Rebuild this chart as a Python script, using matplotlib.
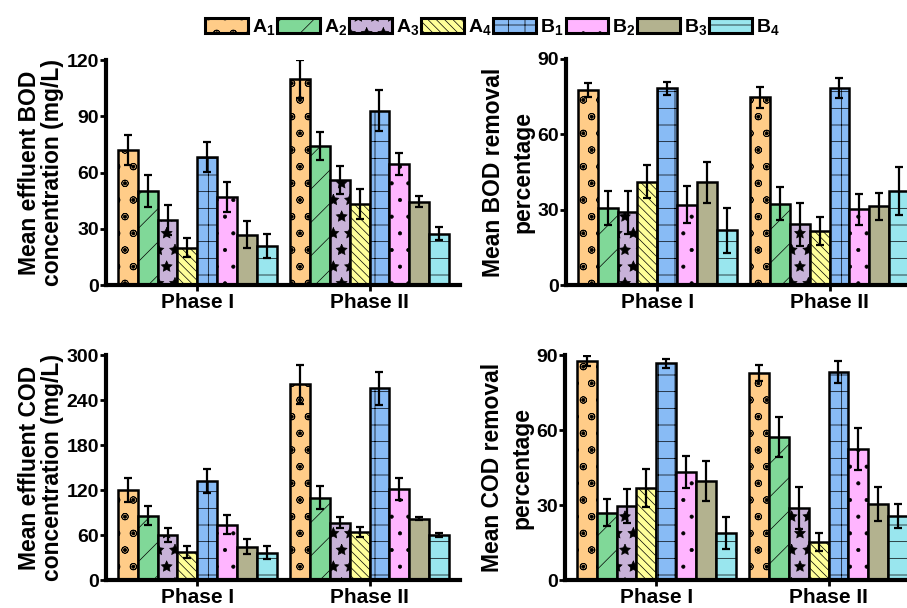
import matplotlib
matplotlib.use("Agg")
import matplotlib.pyplot as plt
import numpy as np

plt.rcParams['font.family'] = ['Liberation Sans', 'DejaVu Sans']
plt.rcParams['font.weight'] = 'bold'
plt.rcParams['mathtext.fontset'] = 'custom'
plt.rcParams['mathtext.rm'] = 'Liberation Sans:bold'
plt.rcParams['mathtext.it'] = 'Liberation Sans:bold'
plt.rcParams['mathtext.bf'] = 'Liberation Sans:bold'
plt.rcParams['hatch.linewidth'] = 0.5

phases = ['Phase I', 'Phase II']
series = ['A$_1$', 'A$_2$', 'A$_3$', 'A$_4$', 'B$_1$', 'B$_2$', 'B$_3$', 'B$_4$']
colors = ['#FFCC88', '#80D898', '#C8B2D8', '#FFFF99', '#88BBF5', '#FFB5FF', '#B3B28F', '#99E6EE']
hatches = ['o.', '/', '*', '\\\\\\\\', '+', '.', '', '-']

# values per series: [Phase I, Phase II]
bod_eff = [[72, 110], [50, 74], [35, 56], [20, 43.5], [68.5, 93], [47, 64.5], [27, 44.5], [21, 27.5]]
bod_eff_err = [[8, 10], [8.5, 7.5], [8, 7.5], [5, 8], [8, 11], [8, 6], [7, 3], [6.5, 3.5]]

bod_rem = [[77.5, 74.7], [30.6, 32.4], [29, 24.2], [41.2, 21.5], [78.3, 78.5], [32, 30.2], [41, 31.4], [21.8, 37.4]]
bod_rem_err = [[2.8, 4.1], [6.8, 6.6], [8.5, 8.6], [6.5, 5.5], [2.7, 3.9], [7.3, 6.1], [8.2, 5.3], [9, 9.6]]

cod_eff = [[120, 261], [86, 110], [60, 76.5], [37.5, 64], [132.5, 255.5], [74, 121], [44.5, 82], [36.5, 60]]
cod_eff_err = [[16, 26], [12.5, 15.6], [9.3, 7], [8.4, 6.7], [16, 22], [12.4, 14.7], [10.2, 1.5], [8.4, 2.2]]

cod_rem = [[87.7, 82.7], [27, 57.2], [29.7, 28.8], [36.8, 15.2], [86.7, 83.2], [43.2, 52.4], [39.6, 30.5], [18.8, 25.7]]
cod_rem_err = [[1.9, 3.2], [5.3, 7.9], [6.7, 8.4], [7.7, 3.5], [1.7, 4.4], [6.4, 8.4], [8, 6.9], [6.3, 4.7]]

panels = [
    (bod_eff, bod_eff_err, 'Mean effluent BOD\nconcentration (mg/L)', [0, 30, 60, 90, 120], 120, 1.0),
    (bod_rem, bod_rem_err, 'Mean BOD removal\npercentage', [0, 30, 60, 90], 90, 1.35),
    (cod_eff, cod_eff_err, 'Mean effluent COD\nconcentration (mg/L)', [0, 60, 120, 180, 240, 300], 300, 1.0),
    (cod_rem, cod_rem_err, 'Mean COD removal\npercentage', [0, 30, 60, 90], 90, 1.35),
]

fig = plt.figure(figsize=(9.07, 6.08), dpi=100)
W = 354 / 907
rects = [
    [106 / 907, 0.531, W, 0.370],
    [566 / 907, 0.531, W, 0.372],
    [106 / 907, 0.046, W, 0.370],
    [565 / 907, 0.046, W, 0.370],
]

bw = 0.115
x = np.arange(len(phases))
handles = None
for (vals, errs, ylabel, yticks, ymax, ls), rect in zip(panels, rects):
    ax = fig.add_axes(rect)
    hs = []
    for i in range(len(series)):
        offs = (i - 3.5) * bw
        b = ax.bar(x + offs, vals[i], bw, yerr=errs[i], color=colors[i], edgecolor='black',
                   linewidth=1.8, hatch=hatches[i], label=series[i],
                   error_kw=dict(ecolor='black', elinewidth=1.6, capsize=3, capthick=1.6), zorder=2)
        hs.append(b)
    if handles is None:
        handles = hs
    ax.set_xlim(-0.53, 1.525)
    ax.set_ylim(0, ymax)
    ax.set_yticks(yticks)
    ax.set_xticks(x)
    ax.set_xticklabels(phases, fontsize=15, fontweight='bold')
    ax.tick_params(axis='y', labelsize=14, width=2, length=4, direction='out', pad=1)
    ax.tick_params(axis='x', width=2, length=4, direction='out', pad=2)
    for t in ax.get_yticklabels():
        t.set_fontweight('bold')
    ax.set_ylabel(ylabel, fontsize=16.5, fontweight='bold', labelpad=2, linespacing=ls)
    ax.spines['top'].set_visible(False)
    ax.spines['right'].set_visible(False)
    ax.spines['left'].set_linewidth(3)
    ax.spines['bottom'].set_linewidth(3)

leg = fig.legend(handles=handles, labels=series, loc='center', bbox_to_anchor=(0.543, 0.955),
                 ncol=8, frameon=False, fontsize=14, handlelength=2.2, handleheight=0.85,
                 handletextpad=0.2, columnspacing=0.1, borderaxespad=0)
for p in leg.get_patches():
    p.set_linewidth(2.2)

fig.savefig('out.png', dpi=100)
